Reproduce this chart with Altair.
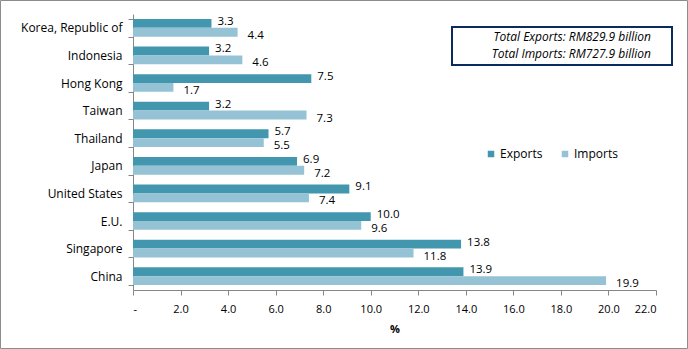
import altair as alt
import pandas as pd

countries = ["Korea, Republic of", "Indonesia", "Hong Kong", "Taiwan", "Thailand",
             "Japan", "United States", "E.U.", "Singapore", "China"]
exports = [3.3, 3.2, 7.5, 3.2, 5.7, 6.9, 9.1, 10.0, 13.8, 13.9]
imports = [4.4, 4.6, 1.7, 7.3, 5.5, 7.2, 7.4, 9.6, 11.8, 19.9]
series = ["Exports", "Imports"]
colors = ["#4297ae", "#95c3d5"]
box_lines = ["Total Exports:  RM829.9 billion", "Total Imports:  RM727.9 billion"]

rows = []
for c, e, i in zip(countries, exports, imports):
    rows.append({"Country": c, "Series": "Exports", "Value": e})
    rows.append({"Country": c, "Series": "Imports", "Value": i})
df = pd.DataFrame(rows)

FONT = "Open Sans"
W, H = 523, 276
PL, PT = 133, 14

y_enc = alt.Y("Country:N", sort=countries, title=None,
              scale=alt.Scale(paddingInner=0.36, paddingOuter=0.18),
              axis=alt.Axis(tickBand="extent", domainColor="#868686", tickColor="#868686",
                            tickSize=5, labelPadding=6, labelFontSize=12, labelColor="#000000",
                            labelFont=FONT))
x_enc = alt.X("Value:Q", title="%",
              scale=alt.Scale(domain=[0, 22], nice=False, zero=True),
              axis=alt.Axis(values=list(range(0, 23, 2)),
                            labelExpr="datum.value == 0 ? '-' : format(datum.value, '.1f')",
                            grid=False, domainColor="#868686", tickColor="#868686", tickSize=5,
                            labelPadding=8, labelFontSize=11, labelColor="#000000", labelFont=FONT,
                            titleFontSize=11, titleFont=FONT, titleFontWeight="bold",
                            titlePadding=9, titleColor="#000000"))

bars = alt.Chart(df).mark_bar().encode(
    y=y_enc,
    x=x_enc,
    yOffset=alt.YOffset("Series:N", sort=series),
    color=alt.Color("Series:N", sort=series,
                    scale=alt.Scale(domain=series, range=colors),
                    legend=alt.Legend(title=None, orient="none", direction="horizontal",
                                      legendX=352, legendY=134, symbolType="square",
                                      symbolSize=42, symbolStrokeWidth=0, labelFontSize=12,
                                      labelFont=FONT, labelColor="#000000", columnPadding=16,
                                      labelOffset=3)),
)

exp_text = alt.Chart(df).transform_filter(alt.datum.Series == "Exports").mark_text(
    align="left", baseline="middle", dx=6, dy=-1.5, fontSize=11.5, font=FONT, color="#000000"
).encode(
    y=alt.Y("Country:N", sort=countries),
    x="Value:Q",
    yOffset=alt.YOffset("Series:N", sort=series),
    text=alt.Text("Value:Q", format=".1f"),
)
imp_text = alt.Chart(df).transform_filter(alt.datum.Series == "Imports").mark_text(
    align="left", baseline="middle", dx=10, dy=3.5, fontSize=11.5, font=FONT, color="#000000"
).encode(
    y=alt.Y("Country:N", sort=countries),
    x="Value:Q",
    yOffset=alt.YOffset("Series:N", sort=series),
    text=alt.Text("Value:Q", format=".1f"),
)

one = pd.DataFrame({"k": [0]})
box = alt.Chart(one).mark_rect(fill="white", stroke="#0b2a5e", strokeWidth=2, clip=False).encode(
    x=alt.value(319), x2=alt.value(539), y=alt.value(13), y2=alt.value(51)
)
line1 = alt.Chart(one).mark_text(align="right", baseline="middle", fontStyle="italic",
                                 fontSize=12, font=FONT, color="#000000", text=box_lines[0]).encode(
    x=alt.value(518), y=alt.value(23)
)
line2 = alt.Chart(one).mark_text(align="right", baseline="middle", fontStyle="italic",
                                 fontSize=12, font=FONT, color="#000000", text=box_lines[1]).encode(
    x=alt.value(518), y=alt.value(40)
)
border = alt.Chart(one).mark_rect(fill=None, stroke="#8c8c8c", strokeWidth=1, clip=False).encode(
    x=alt.value(-PL + 0.5), x2=alt.value(688 - PL - 0.5),
    y=alt.value(-PT + 0.5), y2=alt.value(349 - PT - 0.5)
)

chart = alt.layer(bars, exp_text, imp_text, box, line1, line2, border).properties(
    width=W, height=H,
    autosize=alt.AutoSizeParams(type="none"),
    padding={"left": PL, "top": PT, "right": 688 - PL - W, "bottom": 349 - PT - H},
    background="white",
).configure_view(stroke=None)

chart.save("out.html", embed_options={"renderer": "svg", "actions": False})
